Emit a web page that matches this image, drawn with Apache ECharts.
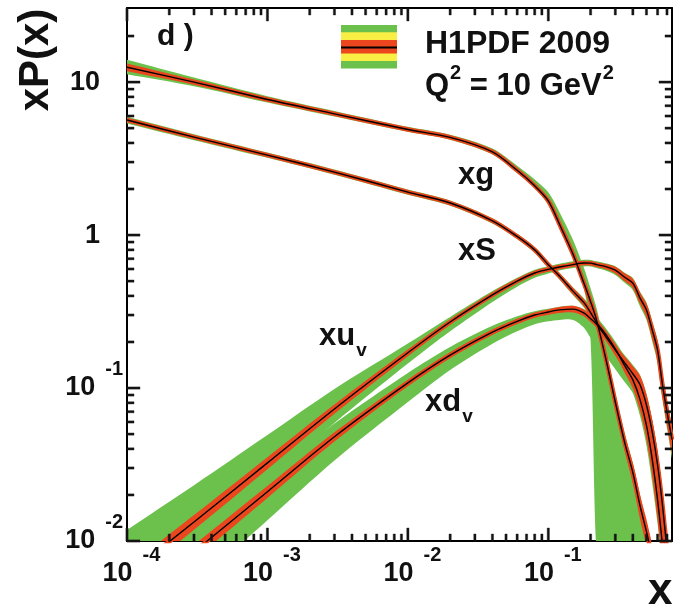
<!DOCTYPE html>
<html><head><meta charset="utf-8">
<script src="https://cdn.jsdelivr.net/npm/echarts@6/dist/echarts.min.js"></script>
<style>html,body{margin:0;padding:0;background:#fff}#c{width:675px;height:610px}</style>
</head><body><div id="c"></div>
<script>
// ---- data ----
const xGrid = [0.0001, 0.0003, 0.001, 0.003, 0.01, 0.02, 0.04, 0.06, 0.08, 0.1, 0.12, 0.15, 0.18, 0.2, 0.22, 0.26, 0.3, 0.35, 0.4, 0.45, 0.5, 0.55, 0.6, 0.65, 0.7, 0.76];

const xg = [12.5, 10.0, 7.7, 6.2, 4.9, 4.35, 3.5, 2.65, 2.1, 1.67, 1.18, 0.75, 0.48, 0.367, 0.28, 0.148, 0.081, 0.044, 0.028, 0.017, 0.0115, 0.0077, 0.005, 0.0032, 0.002, 0.0012];
const xgRed = [0.06, 0.04, 0.03, 0.025, 0.02, 0.02, 0.02, 0.02, 0.02, 0.025, 0.03, 0.04, 0.05, 0.05, 0.06, 0.08, 0.1, 0.12, 0.15, 0.18, 0.2, 0.22, 0.25, 0.3, 0.35, 0.4];
const xgGreenUp = [0.12, 0.07, 0.05, 0.045, 0.04, 0.04, 0.05, 0.07, 0.1, 0.14, 0.2, 0.24, 0.26, 0.22, 0.2, 0.16, 0.15, 0.15, 0.15, 0.15, 0.15, 0.15, 0.15, 0.15, 0.15, 0.15];
const xgGreenDn = [0.1, 0.06, 0.045, 0.04, 0.035, 0.035, 0.04, 0.04, 0.04, 0.05, 0.06, 0.07, 0.08, 0.44, 0.97, 0.99, 0.99, 0.99, 0.99, 0.99, 0.99, 0.99, 0.99, 0.99, 0.99, 0.99];

const xS = [5.65, 4.37, 3.33, 2.58, 1.91, 1.62, 1.24, 0.98, 0.80, 0.64, 0.54, 0.43, 0.36, 0.311, 0.27, 0.22, 0.18, 0.14, 0.113, 0.084, 0.057, 0.034, 0.0185, 0.0094, 0.0045, 0.002];
const xSRed = [0.03, 0.025, 0.02, 0.02, 0.02, 0.02, 0.02, 0.02, 0.02, 0.025, 0.03, 0.04, 0.05, 0.05, 0.05, 0.06, 0.08, 0.1, 0.12, 0.15, 0.18, 0.2, 0.22, 0.24, 0.25, 0.25];
const xSGreen = [0.05, 0.045, 0.04, 0.04, 0.04, 0.04, 0.04, 0.04, 0.045, 0.05, 0.05, 0.06, 0.07, 0.08, 0.09, 0.1, 0.12, 0.15, 0.18, 0.22, 0.26, 0.3, 0.3, 0.3, 0.3, 0.3];

const xuv = [0.0060, 0.0133, 0.0324, 0.073, 0.17, 0.27, 0.406, 0.50, 0.565, 0.596, 0.618, 0.641, 0.656, 0.655, 0.641, 0.62, 0.59, 0.53, 0.485, 0.387, 0.324, 0.239, 0.177, 0.105, 0.070, 0.046];
const xuvRed = [0.12, 0.11, 0.09, 0.07, 0.05, 0.04, 0.035, 0.03, 0.03, 0.03, 0.03, 0.03, 0.03, 0.03, 0.03, 0.04, 0.05, 0.06, 0.07, 0.08, 0.1, 0.12, 0.14, 0.16, 0.18, 0.2];
const xuvGreenUp = [0.97, 0.74, 0.52, 0.35, 0.15, 0.08, 0.06, 0.05, 0.05, 0.05, 0.05, 0.05, 0.05, 0.05, 0.05, 0.05, 0.06, 0.07, 0.08, 0.1, 0.12, 0.14, 0.16, 0.18, 0.2, 0.22];
const xuvGreenDn = [0.3, 0.27, 0.24, 0.19, 0.15, 0.13, 0.1, 0.08, 0.07, 0.06, 0.05, 0.05, 0.05, 0.05, 0.05, 0.06, 0.07, 0.08, 0.1, 0.12, 0.14, 0.16, 0.18, 0.2, 0.22, 0.25];

const xdv = [0.0037, 0.0085, 0.021, 0.048, 0.108, 0.164, 0.232, 0.273, 0.30, 0.314, 0.324, 0.328, 0.309, 0.284, 0.262, 0.213, 0.177, 0.146, 0.124, 0.105, 0.0775, 0.0515, 0.0314, 0.0172, 0.0087, 0.004];
const xdvRed = [0.12, 0.11, 0.09, 0.07, 0.05, 0.045, 0.04, 0.04, 0.04, 0.04, 0.045, 0.05, 0.05, 0.05, 0.05, 0.06, 0.08, 0.1, 0.12, 0.15, 0.18, 0.2, 0.22, 0.24, 0.25, 0.25];
const xdvGreenUp = [0.4, 0.35, 0.28, 0.22, 0.16, 0.13, 0.1, 0.08, 0.06, 0.05, 0.05, 0.05, 0.06, 0.07, 0.08, 0.09, 0.1, 0.12, 0.14, 0.16, 0.18, 0.2, 0.22, 0.24, 0.26, 0.28];
const xdvGreenDn = [0.45, 0.4, 0.35, 0.3, 0.25, 0.2, 0.16, 0.14, 0.13, 0.13, 0.14, 0.15, 0.2, 0.25, 0.25, 0.25, 0.25, 0.25, 0.25, 0.28, 0.3, 0.3, 0.3, 0.3, 0.3, 0.3];

const X_MIN = 0.0001, X_MAX = 0.76, Y_MIN = 0.01, Y_MAX = 30.5;
const xMajorTicks = [0.0001, 0.001, 0.01, 0.1];
const yMajorTicks = [0.01, 0.1, 1, 10];
const xMinorTicks = [0.0002,0.0003,0.0004,0.0005,0.0006,0.0007,0.0008,0.0009,0.002,0.003,0.004,0.005,0.006,0.007,0.008,0.009,0.02,0.03,0.04,0.05,0.06,0.07,0.08,0.09,0.2,0.3,0.4,0.5,0.6,0.7];
const yMinorTicks = [0.02,0.03,0.04,0.05,0.06,0.07,0.08,0.09,0.2,0.3,0.4,0.5,0.6,0.7,0.8,0.9,2,3,4,5,6,7,8,9,20];

// ---- styles ----
const GREEN = '#6cc04c', RED = '#eb461e', YELLOW = '#f8ee44', INK = '#111', TICK = '#141414';
const FF = 'Liberation Sans';
const SMOOTH = 0.3;

const labRich = {
  b: {fontSize: 27, fontWeight: 'bold', fontFamily: FF, color: INK, lineHeight: 28, verticalAlign: 'middle', padding: [0, 0, 0, 9]},
  s: {fontSize: 20, fontWeight: 'bold', fontFamily: FF, color: INK, verticalAlign: 'top', padding: [0, 0, 37, 10]},
  p: {fontSize: 27, fontWeight: 'bold', fontFamily: FF, color: INK, lineHeight: 28, verticalAlign: 'middle', padding: [0, 23, 0, 0]}
};
function powExp(v) {
  const l = Math.log10(v), e = Math.round(l);
  return Math.abs(l - e) < 1e-6 ? e : null;
}
function xFmt(v) { const e = powExp(v); return e === null ? '' : '{b|10}{s|' + e + '}'; }
function yFmt(v) {
  const e = powExp(v);
  if (e === null) return '';
  if (e === 1) return '{p|10}';
  if (e === 0) return '{p|1}';
  return '{b|10}{s|' + e + '}';
}

function extend(p, q, d) {  // point beyond p, continuing the direction q -> p
  const dx = p[0] - q[0], dy = p[1] - q[1], L = Math.hypot(dx, dy) || 1;
  return [p[0] + dx / L * d, p[1] + dy / L * d];
}
function rowsOf(c, up, dn) { return xGrid.map((x, i) => [x, c[i] * (1 - dn[i]), c[i] * (1 + up[i])]); }
function bandSeries(rows, color, z) {
  return {
    type: 'custom', coordinateSystem: 'cartesian2d', silent: true, z: z, clip: true,
    data: rows, encode: {x: 0, y: 1},
    renderItem: function (params, api) {
      if (params.dataIndex !== 0) return;
      const top = rows.map(r => api.coord([r[0], r[2]]));
      const bot = rows.map(r => api.coord([r[0], r[1]]));
      const n = top.length - 1;
      const pts = [extend(top[0], top[1], 80)].concat(top, [extend(top[n], top[n - 1], 80), extend(bot[n], bot[n - 1], 80)],
        bot.slice().reverse(), [extend(bot[0], bot[1], 80)]);
      const cs = params.coordSys;
      return {
        type: 'polygon', shape: {points: pts, smooth: SMOOTH},
        style: {fill: color},
        clipPath: {type: 'rect', shape: {x: cs.x, y: cs.y, width: cs.width, height: cs.height}}
      };
    }
  };
}
function lineSeries(c, color, width, z) {
  return {type: 'line', data: xGrid.map((x, i) => [x, c[i]]), symbol: 'none', silent: true, z: z,
    smooth: SMOOTH, clip: true, lineStyle: {color: color, width: width, join: 'round'}};
}
const curves = [
  {c: xg, red: xgRed, gu: xgGreenUp, gd: xgGreenDn},
  {c: xS, red: xSRed, gu: xSGreen, gd: xSGreen},
  {c: xuv, red: xuvRed, gu: xuvGreenUp, gd: xuvGreenDn},
  {c: xdv, red: xdvRed, gu: xdvGreenUp, gd: xdvGreenDn}
];
const series = [];
curves.forEach(k => series.push(bandSeries(rowsOf(k.c, k.gu, k.gd), GREEN, 1)));
curves.forEach(k => series.push(bandSeries(rowsOf(k.c, k.red, k.red), RED, 2)));
curves.forEach(k => series.push(lineSeries(k.c, RED, 4.5, 3)));
curves.forEach(k => series.push(lineSeries(k.c, '#000', 1.4, 4)));

// tick marks on all four sides (major + 2..9 minor per decade), placed through the axes' scales
series.push({
  type: 'custom', coordinateSystem: 'cartesian2d', silent: true, z: 5, clip: false,
  data: [[X_MIN, Y_MIN]], encode: {x: 0, y: 1},
  renderItem: function (params, api) {
    const cs = params.coordSys;
    const w = 1.1;
    const ch = [];
    const st = () => ({fill: TICK, stroke: TICK, lineWidth: 0.4});
    const bx = cs.y + cs.height, rx = cs.x + cs.width;
    function xt(v, L) {
      const x = api.coord([v, 1])[0];
      ch.push({type: 'polygon', shape: {points: [[x - w, bx], [x + w, bx], [x + w, bx - L], [x - w, bx - L]]}, style: st()});
      ch.push({type: 'polygon', shape: {points: [[x - w, cs.y], [x + w, cs.y], [x + w, cs.y + L], [x - w, cs.y + L]]}, style: st()});
    }
    function yt(v, L) {
      const y = api.coord([0.01, v])[1];
      ch.push({type: 'polygon', shape: {points: [[cs.x, y - w], [cs.x + L, y - w], [cs.x + L, y + w], [cs.x, y + w]]}, style: st()});
      ch.push({type: 'polygon', shape: {points: [[rx, y - w], [rx - L, y - w], [rx - L, y + w], [rx, y + w]]}, style: st()});
    }
    xMajorTicks.forEach(v => xt(v, 13));
    xMinorTicks.forEach(v => xt(v, 7));
    yMajorTicks.forEach(v => yt(v, 13));
    yMinorTicks.forEach(v => yt(v, 7));
    return {type: 'group', children: ch};
  }
});

const axLine = {show: true, lineStyle: {color: '#000', width: 2}};
const axTick = {show: false};
const option = {
  animation: false,
  backgroundColor: '#fff',
  grid: {left: 127, top: 8, width: 545, height: 533},
  xAxis: [
    {type: 'log', logBase: 10, min: X_MIN, max: X_MAX, position: 'bottom', axisLine: axLine, axisTick: axTick,
      splitLine: {show: false}, axisLabel: {margin: 4, formatter: xFmt, rich: labRich}},
    {type: 'log', logBase: 10, min: X_MIN, max: X_MAX, position: 'top', axisLine: axLine, axisTick: axTick,
      splitLine: {show: false}, axisLabel: {show: false}}
  ],
  yAxis: [
    {type: 'log', logBase: 10, min: Y_MIN, max: Y_MAX, position: 'left', axisLine: axLine, axisTick: axTick,
      splitLine: {show: false}, axisLabel: {margin: 4, formatter: yFmt, rich: labRich}},
    {type: 'log', logBase: 10, min: Y_MIN, max: Y_MAX, position: 'right', axisLine: axLine, axisTick: axTick,
      splitLine: {show: false}, axisLabel: {show: false}}
  ],
  series: series,
  graphic: [
    // legend swatch
    {type: 'rect', shape: {x: 341, y: 25, width: 56, height: 43.5}, style: {fill: GREEN}, z: 10},
    {type: 'rect', shape: {x: 341, y: 32.3, width: 56, height: 28.7}, style: {fill: YELLOW}, z: 11},
    {type: 'rect', shape: {x: 341, y: 40, width: 56, height: 13.5}, style: {fill: RED}, z: 12},
    {type: 'rect', shape: {x: 341, y: 46.5, width: 56, height: 2}, style: {fill: '#000'}, z: 13},
    {type: 'text', x: 425, y: 44, z: 10, style: {text: 'H1PDF 2009', font: 'bold 32px "Liberation Sans"', fill: INK, align: 'left', verticalAlign: 'middle'}},
    {type: 'text', x: 425, y: 86, z: 10, style: {
      text: '{b|Q}{s|2}{b| = 10 GeV}{s|2}', align: 'left', verticalAlign: 'middle',
      rich: {
        b: {fontSize: 31, fontWeight: 'bold', fontFamily: FF, fill: INK, lineHeight: 34, verticalAlign: 'middle'},
        s: {fontSize: 20, fontWeight: 'bold', fontFamily: FF, fill: INK, verticalAlign: 'top', padding: [0, 0, 26, 1]}
      }}},
    {type: 'text', x: 157, y: 37, z: 10, style: {text: 'd )', font: 'bold 30px "Liberation Sans"', fill: INK, align: 'left', verticalAlign: 'middle'}},
    // curve labels
    {type: 'text', x: 458, y: 175, z: 10, style: {text: 'xg', font: 'bold 31px "Liberation Sans"', fill: INK, align: 'left', verticalAlign: 'middle'}},
    {type: 'text', x: 458, y: 251, z: 10, style: {text: 'xS', font: 'bold 31px "Liberation Sans"', fill: INK, align: 'left', verticalAlign: 'middle'}},
    {type: 'text', x: 319, y: 336, z: 10, style: {
      text: '{b|xu}{s|v}', align: 'left', verticalAlign: 'middle',
      rich: {
        b: {fontSize: 31, fontWeight: 'bold', fontFamily: FF, fill: INK, lineHeight: 34, verticalAlign: 'middle'},
        s: {fontSize: 19, fontWeight: 'bold', fontFamily: FF, fill: INK, verticalAlign: 'bottom', padding: [30, 0, 0, 1]}
      }}},
    {type: 'text', x: 425, y: 402, z: 10, style: {
      text: '{b|xd}{s|v}', align: 'left', verticalAlign: 'middle',
      rich: {
        b: {fontSize: 31, fontWeight: 'bold', fontFamily: FF, fill: INK, lineHeight: 34, verticalAlign: 'middle'},
        s: {fontSize: 19, fontWeight: 'bold', fontFamily: FF, fill: INK, verticalAlign: 'bottom', padding: [30, 0, 0, 1]}
      }}},
    // axis titles
    {type: 'text', x: 36, y: 60, rotation: Math.PI / 2, z: 10, style: {text: 'xP(x)', font: 'bold 42px "Liberation Sans"', fill: INK, align: 'center', verticalAlign: 'middle'}},
    {type: 'text', x: 648, y: 592, z: 10, style: {text: 'x', font: 'bold 44px "Liberation Sans"', fill: INK, align: 'left', verticalAlign: 'middle'}}
  ]
};
const chart = echarts.init(document.getElementById('c'), null, {renderer: 'canvas'});
chart.setOption(option);
</script>
</body></html>
